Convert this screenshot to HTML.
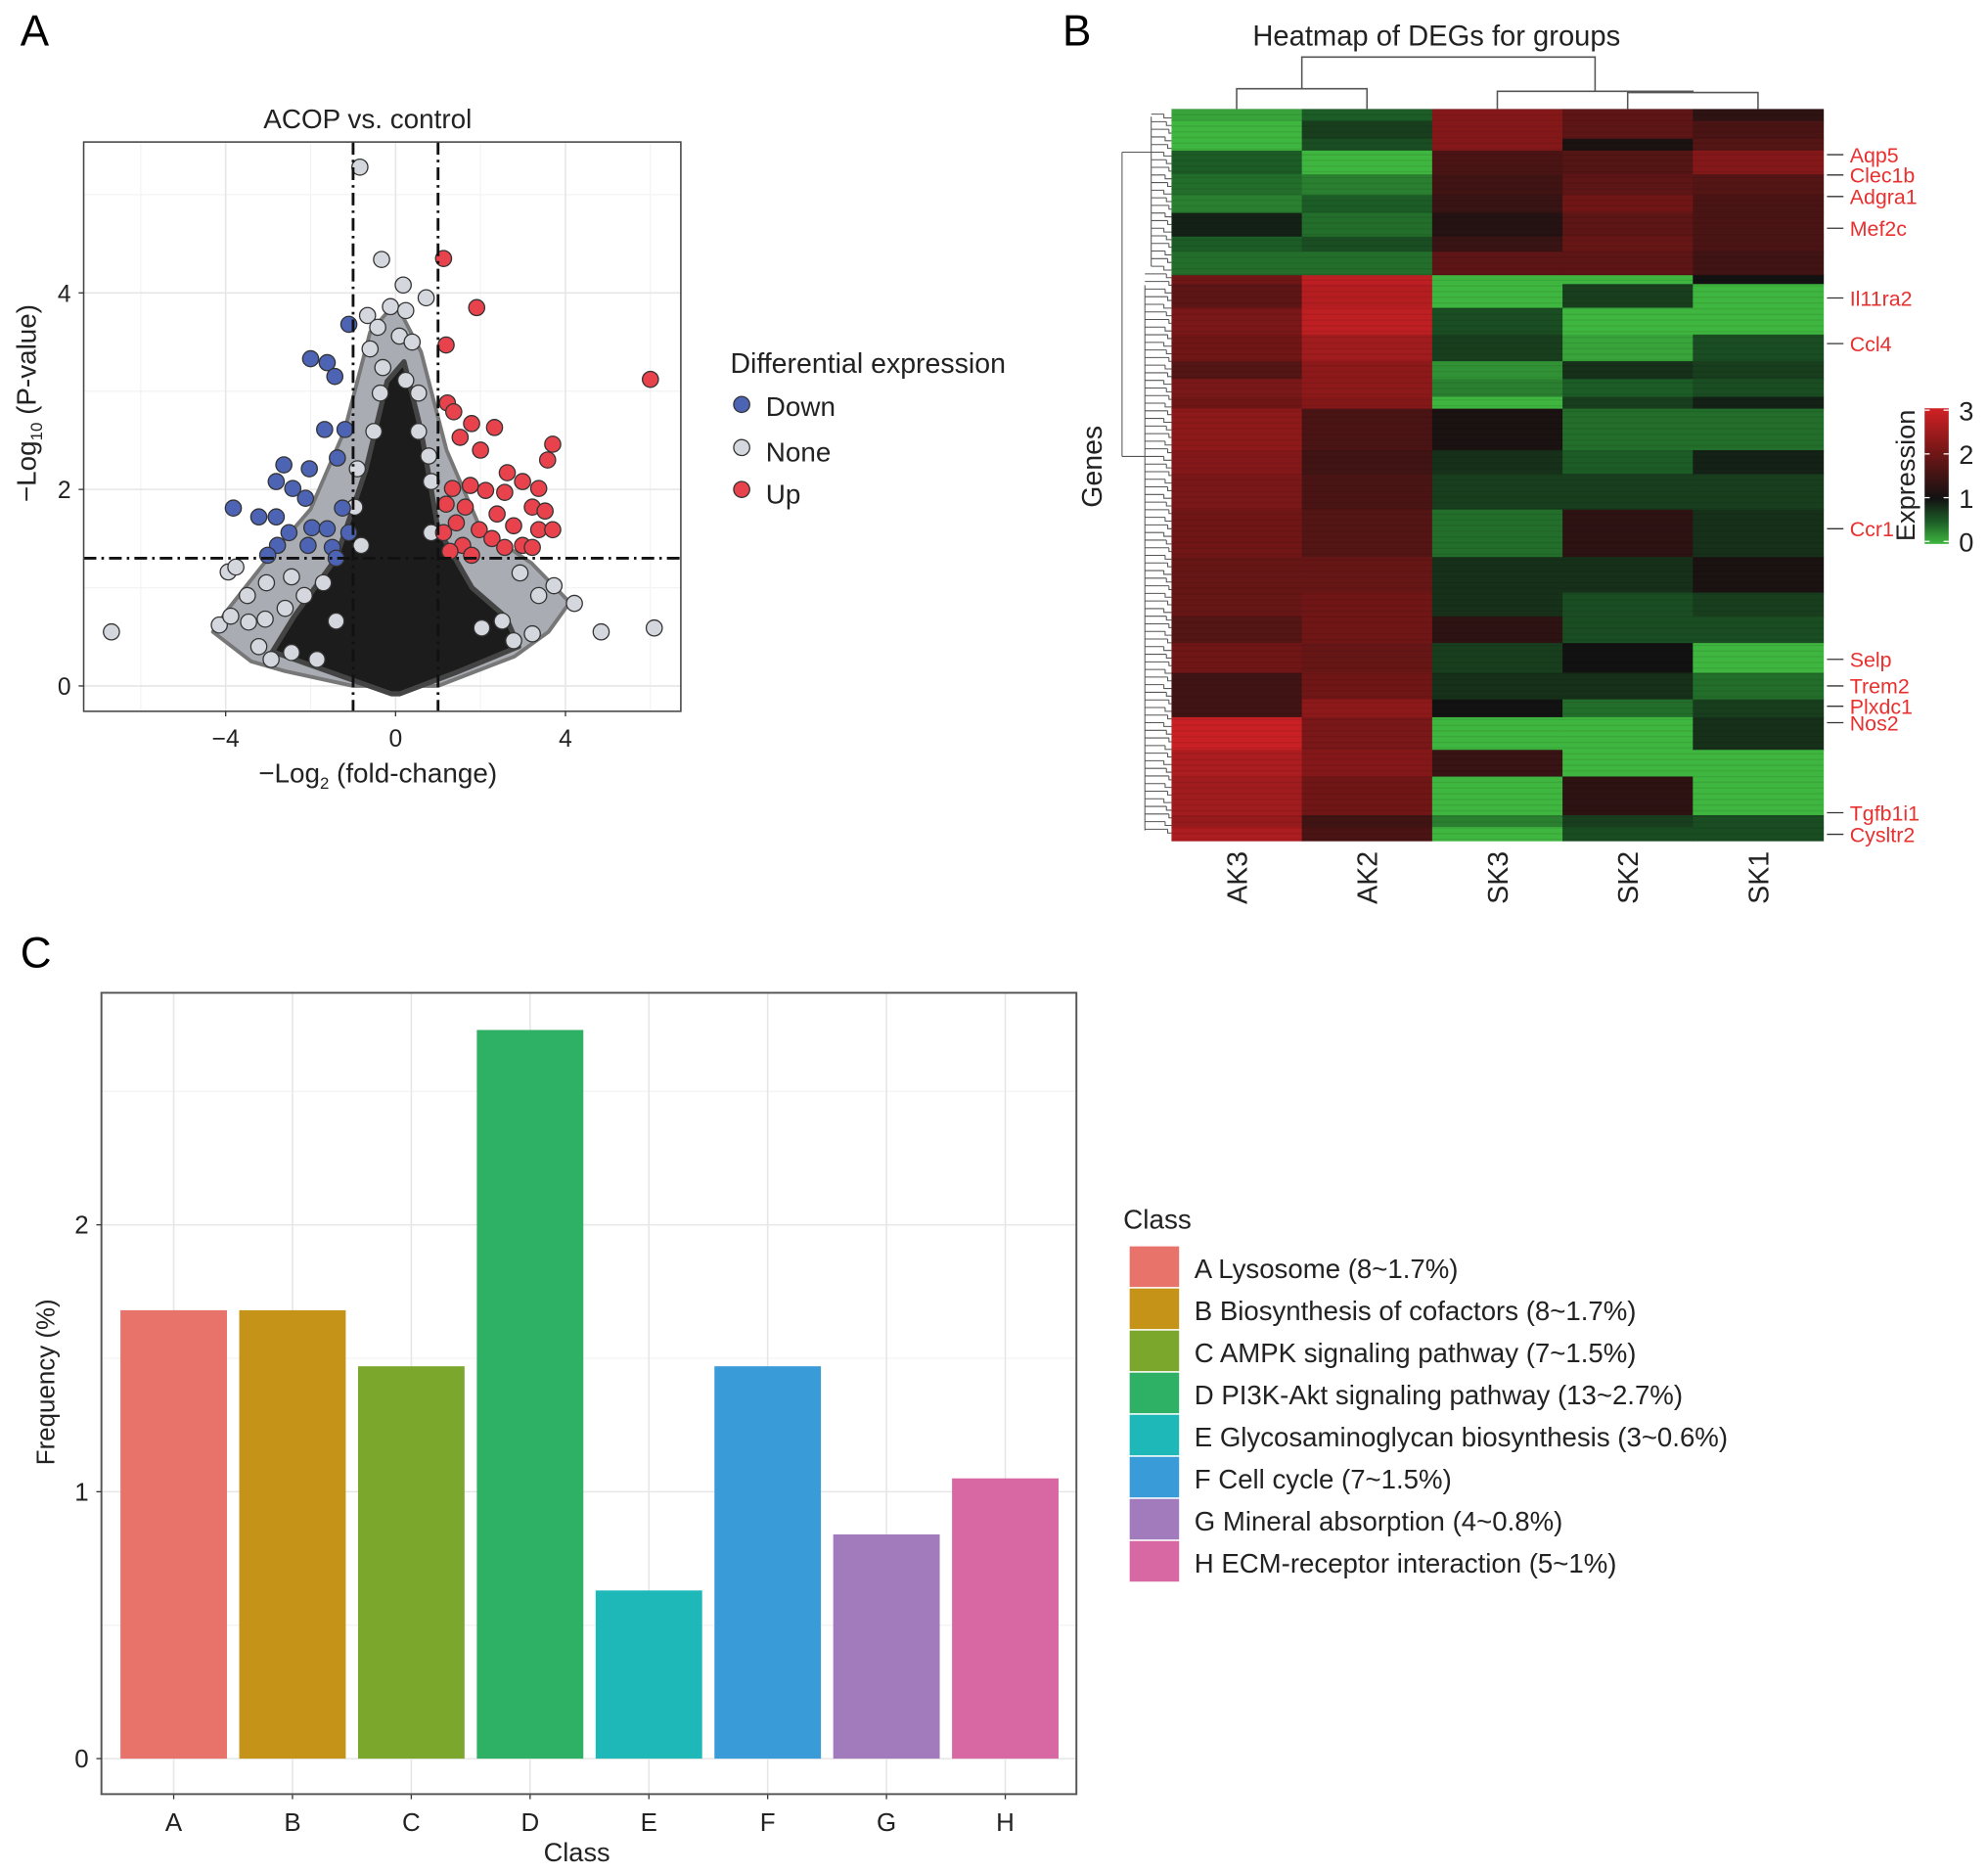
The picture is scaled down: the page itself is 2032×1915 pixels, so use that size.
<!DOCTYPE html>
<html><head><meta charset="utf-8"><style>
html,body{margin:0;padding:0;background:#fff}
svg{display:block;font-family:"Liberation Sans",sans-serif}
</style></head><body>
<svg id="fig" width="2032" height="1915" viewBox="0 0 1568 1478" preserveAspectRatio="none" xmlns="http://www.w3.org/2000/svg">
<rect width="1568" height="1478" fill="#fff"/>
<text x="16" y="36" font-size="34">A</text>
<text x="838" y="36" font-size="34">B</text>
<text x="16" y="763" font-size="34">C</text>
<g id="volcano"></g>
<g id="heat"></g>
<g id="bars"></g>
</svg>
<script>
const NS="http://www.w3.org/2000/svg";
function mk(p,t,a,txt){const e=document.createElementNS(NS,t);for(const k in a)e.setAttribute(k,a[k]);if(txt!==undefined)e.textContent=txt;p.appendChild(e);return e;}

// ---------- Panel A data ----------
const downX=[-1.10,-2.0,-1.61,-1.43,-1.67,-1.19,-1.37,-2.63,-2.03,-2.81,-2.42,-2.12,-3.82,-3.22,-2.81,-1.25,-1.97,-2.51,-1.61,-2.78,-2.06,-1.49,-1.40,-1.10,-3.01];
const downY=[3.68,3.33,3.29,3.15,2.61,2.61,2.32,2.25,2.21,2.08,2.01,1.91,1.81,1.72,1.72,1.81,1.61,1.56,1.60,1.43,1.43,1.41,1.30,1.56,1.33];
const upX=[1.13,1.91,1.19,6.0,1.22,1.37,1.79,2.33,1.52,2.0,3.70,3.58,2.63,1.34,1.76,2.12,2.99,3.37,2.57,1.19,1.64,2.39,3.22,3.52,1.43,1.97,2.78,3.37,3.70,1.13,2.27,2.99,2.57,1.58,1.79,3.22,1.28];
const upY=[4.35,3.85,3.47,3.12,2.88,2.79,2.67,2.63,2.53,2.40,2.46,2.30,2.17,2.01,2.04,1.99,2.08,2.01,1.97,1.85,1.82,1.75,1.82,1.78,1.66,1.59,1.63,1.59,1.59,1.56,1.50,1.43,1.41,1.43,1.33,1.41,1.37];
const noneX=[-0.84,-0.33,0.18,0.72,-0.66,-0.12,0.24,-0.42,0.09,-0.60,0.39,-0.30,0.24,-0.36,0.54,-6.69,4.84,6.09,4.21,3.73,-3.94,-3.76,-4.15,-3.88,-3.46,-3.07,-3.22,-2.93,-2.45,-1.85,2.93,3.37,3.22,2.51,2.78,2.03,-2.15,-2.60,-1.70,-1.40,-0.96,-0.90,0.84,0.78,-0.51,0.54,0.84,-0.81,-3.49,-3.04,-2.45];
const noneY=[5.28,4.34,4.08,3.95,3.77,3.86,3.82,3.65,3.56,3.43,3.50,3.24,3.11,2.98,2.98,0.55,0.55,0.59,0.84,1.02,1.16,1.21,0.62,0.71,0.65,0.68,0.40,0.27,0.34,0.27,1.15,0.92,0.53,0.66,0.46,0.59,0.92,0.79,1.05,0.66,1.82,2.21,2.08,2.34,2.59,2.59,1.56,1.43,0.92,1.05,1.11];
const haloX=[-4.3,-3.4,-2.6,-1,1,2.8,3.6,4.1,3.2,2.0,1.2,0.6,0.0,-0.6,-1.2,-2.0,-3.0,-4.0];
const haloY=[0.55,0.25,0.15,0.0,0,0.3,0.55,0.85,1.25,1.6,2.4,3.4,3.9,3.6,2.6,1.8,1.3,0.75];
const coreX=[-0.1,0.1,1.5,2.9,2.6,1.8,1.0,0.6,0.2,-0.2,-0.7,-1.4,-2.4,-2.9];
const coreY=[-0.08,-0.08,0.15,0.4,0.7,1.0,1.6,2.6,3.3,3.1,2.2,1.3,0.7,0.35];
const volXTicks=[-4,0,4];
const volYTicks=[0,2,4];

(function(){
const g=document.getElementById('volcano');
const L=66,R=537,T=112,B=561;
const sx=v=>312+v*33.5, sy=v=>541-v*77.5;
mk(g,'rect',{x:L,y:T,width:R-L,height:B-T,fill:'#fff'});
[-6,-2,2,6].forEach(v=>mk(g,'line',{x1:sx(v),x2:sx(v),y1:T,y2:B,stroke:'#f3f3f3','stroke-width':1}));
[1,3,5].forEach(v=>mk(g,'line',{x1:L,x2:R,y1:sy(v),y2:sy(v),stroke:'#f3f3f3','stroke-width':1}));
volXTicks.forEach(v=>mk(g,'line',{x1:sx(v),x2:sx(v),y1:T,y2:B,stroke:'#e6e6e6','stroke-width':1.2}));
volYTicks.forEach(v=>mk(g,'line',{x1:L,x2:R,y1:sy(v),y2:sy(v),stroke:'#e6e6e6','stroke-width':1.2}));
const halo=mk(g,'polygon',{points:haloX.map((x,i)=>sx(x)+','+sy(haloY[i])).join(' '),fill:'#a9adb3',stroke:'#777','stroke-width':3,'stroke-linejoin':'round'});


const core=mk(g,'polygon',{points:coreX.map((x,i)=>sx(x)+','+sy(coreY[i])).join(' '),fill:'#1c1c1c',stroke:'#444','stroke-width':4,'stroke-linejoin':'round'});


function pts(xs,ys,fill,name){xs.forEach((x,i)=>{const c=mk(g,'circle',{cx:sx(x),cy:sy(ys[i]),r:6.3,fill:fill,stroke:'#333','stroke-width':1});

});}
pts(noneX,noneY,'#d4d8de','none-point');
pts(downX,downY,'#4d63b4','down-point');
pts(upX,upY,'#e8424c','up-point');
const dash={stroke:'#111','stroke-width':2.2,'stroke-dasharray':'10,4,2,4',fill:'none'};
mk(g,'line',Object.assign({x1:sx(-1),x2:sx(-1),y1:T,y2:B},dash));
mk(g,'line',Object.assign({x1:sx(1),x2:sx(1),y1:T,y2:B},dash));
mk(g,'line',Object.assign({x1:L,x2:R,y1:sy(1.3),y2:sy(1.3)},dash));
mk(g,'rect',{x:L,y:T,width:R-L,height:B-T,fill:'none',stroke:'#444','stroke-width':1.2});
volXTicks.forEach(v=>{mk(g,'line',{x1:sx(v),x2:sx(v),y1:B,y2:B+4,stroke:'#333'});
const t=mk(g,'text',{x:sx(v),y:B+28,'font-size':19,'text-anchor':'middle',fill:'#222'},v<0?'\u2212'+(-v):String(v));
});
volYTicks.forEach(v=>{mk(g,'line',{x1:L-4,x2:L,y1:sy(v),y2:sy(v),stroke:'#333'});
const t=mk(g,'text',{x:L-10,y:sy(v)+7,'font-size':19,'text-anchor':'end',fill:'#222'},String(v));
});
})();
</script>
<script>
(function(){
const svg=document.getElementById('fig');
const s=`
<text x="290" y="101" font-size="21.5" text-anchor="middle" fill="#222">ACOP vs. control</text>
<text x="298" y="617" font-size="21.5" text-anchor="middle" fill="#222">−Log<tspan font-size="13" dy="5">2</tspan><tspan dy="-5"> (fold-change)</tspan></text>
<text transform="translate(28,318) rotate(-90)" font-size="21.5" text-anchor="middle" fill="#222">−Log<tspan font-size="13" dy="5">10</tspan><tspan dy="-5"> (P-value)</tspan></text>
<g>
<text x="576" y="294" font-size="22" fill="#222">Differential expression</text>
<circle cx="585" cy="319" r="6.3" fill="#4d63b4" stroke="#333"/>
<text x="604" y="328" font-size="21.5" fill="#222">Down</text>
<circle cx="585" cy="353" r="6.3" fill="#d4d8de" stroke="#333"/>
<text x="604" y="364" font-size="21.5" fill="#222">None</text>
<circle cx="585" cy="386" r="6.3" fill="#e8424c" stroke="#333"/>
<text x="604" y="397" font-size="21.5" fill="#222">Up</text>
</g>`;
svg.insertAdjacentHTML('beforeend',s);
})();
</script>
<script>
// ---------- Panel B data ----------
const samples=['AK3','AK2','SK3','SK2','SK1'];
const rowStart=[185,205,235,255,295,330,360,400,425,465,480,520,565,610,640,670,690,760,800,860,940,1000,1040,1085,1135,1180,1210,1265,1310,1375,1395];
const colAK3=[0.1,0.0,0.0,0.5,0.4,0.3,0.9,0.5,0.4,2.0,1.8,2.1,2.0,1.7,2.1,2.0,2.3,2.2,2.1,2.0,1.9,1.9,1.7,2.0,1.5,1.5,2.9,2.6,2.5,2.4,2.6];
const colAK2=[0.5,0.7,0.6,0.0,0.3,0.5,0.4,0.6,0.4,2.8,2.7,2.8,2.5,2.3,2.3,2.2,1.6,1.5,1.6,1.7,1.9,2.0,2.0,1.9,2.0,2.3,2.1,2.2,2.0,1.5,1.6];
const colSK3=[2.2,2.2,2.2,1.6,1.5,1.4,1.2,1.4,1.8,0.0,0.0,0.6,0.7,0.2,0.3,0.0,1.1,0.8,0.7,0.4,0.8,0.8,1.3,0.7,0.8,1.0,0.0,1.4,0.0,0.3,0.0];
const colSK2=[1.8,1.8,1.1,1.7,1.8,2.0,1.8,1.9,1.8,0.0,0.7,0.0,0.1,0.8,0.5,0.7,0.4,0.5,0.7,1.3,0.8,0.6,0.6,1.0,0.8,0.4,0.0,0.0,1.3,0.7,0.6];
const colSK1=[1.3,1.6,1.7,2.2,1.7,1.6,1.6,1.6,1.5,1.0,0.0,0.0,0.6,0.7,0.6,0.9,0.4,0.9,0.7,0.8,1.1,0.7,0.6,0.0,0.4,0.7,0.8,0.0,0.0,0.6,0.6];
const geneNames=['Aqp5','Clec1b','Adgra1','Mef2c','Il11ra2','Ccl4','Ccr1','Selp','Trem2','Plxdc1','Nos2','Tgfb1i1','Cysltr2'];
const geneRowY=[125,141,158,183,238,274,420,523,544,560,573,644,661];
const legendTicks=[0,1,2,3];

(function(){
const g=document.getElementById('heat');
const L=924,R=1438,T=86,B=663,Z0=185,Z1=1418;
const cw=(R-L)/samples.length;
const ry=z=>T+(z-Z0)/(Z1-Z0)*(B-T);
const stops=[[0,[63,182,63]],[0.5,[28,92,38]],[1,[18,18,18]],[2,[112,22,22]],[3,[210,33,37]]];
function col(v){v=Math.max(0,Math.min(3,v));for(let i=0;i<stops.length-1;i++){const a=stops[i],b=stops[i+1];if(v<=b[0]){const f=(v-a[0])/(b[0]-a[0]);return 'rgb('+a[1].map((c,k)=>Math.round(c+(b[1][k]-c)*f)).join(',')+')';}}return 'rgb(210,33,37)';}
const cols=[colAK3,colAK2,colSK3,colSK2,colSK1];
cols.forEach((arr,ci)=>{arr.forEach((v,ri)=>{const y0=ry(rowStart[ri]),y1=ri+1<rowStart.length?ry(rowStart[ri+1]):B;
const r=mk(g,'rect',{x:L+ci*cw,y:y0,width:cw+0.5,height:y1-y0+0.5,fill:col(v)});

});});
for(let y=T;y<B;y+=4.5){mk(g,'line',{x1:L,x2:R,y1:y,y2:y,stroke:'rgba(0,0,0,0.08)','stroke-width':1});}
samples.forEach((s,i)=>{const cx=L+cw*(i+0.5);const t=mk(g,'text',{transform:`translate(${cx+8},713) rotate(-90)`,'font-size':22,fill:'#222'},s);
});
const dl={stroke:'#555','stroke-width':1.2,fill:'none'};
const cx=i=>L+cw*(i+0.5);
const den=mk(g,'path',Object.assign({d:`M${cx(0)},${T}V70H${cx(1)}V${T} M${cx(3)},${T}V73H${cx(4)}V${T} M${cx(2)},${T}V72H${(cx(3)+cx(4))/2}V73 M${(cx(0)+cx(1))/2},70V45H${(cx(2)+(cx(3)+cx(4))/2)/2}V72`},dl));


let d='M885,120V360 M885,120H908 M885,360H903 M908,92V210 M903,225V655';
for(let y=90;y<660;y+=6){const x0=(y<215)?908:903;d+=` M${x0},${y}H${918+((y*7)%5)} M${918+((y*7)%5)},${y}V${y+3}H924`;}
const rd=mk(g,'path',Object.assign({d:d},dl,{'stroke-width':0.8}));


geneNames.forEach((n,i)=>{const y=geneRowY[i];
mk(g,'line',{x1:R+3,x2:R+16,y1:y-3,y2:y-3,stroke:'#333','stroke-width':1});
const t=mk(g,'text',{x:R+21,y:y+3,'font-size':16.5,fill:'#e8302f'},n);
});
const gr=mk(g,'defs',{});const lg=mk(gr,'linearGradient',{id:'cb',x1:0,y1:1,x2:0,y2:0});
stops.forEach(s=>mk(lg,'stop',{offset:s[0]/3,'stop-color':col(s[0])}));
const cb=mk(g,'rect',{x:1518,y:322,width:19,height:107,fill:'url(#cb)'});

legendTicks.forEach(v=>{const y=427-v*34.5;mk(g,'line',{x1:1518,x2:1522,y1:y,y2:y,stroke:'#fff'});mk(g,'line',{x1:1533,x2:1537,y1:y,y2:y,stroke:'#fff'});
const t=mk(g,'text',{x:1545,y:y+8,'font-size':21,fill:'#222'},String(v));
});
})();
document.getElementById('fig').insertAdjacentHTML('beforeend',`
<text x="1133" y="36" font-size="22.5" text-anchor="middle" fill="#222">Heatmap of DEGs for groups</text>
<text transform="translate(869,368) rotate(-90)" font-size="22" text-anchor="middle" fill="#222">Genes</text>
<text transform="translate(1510,375) rotate(-90)" font-size="21" text-anchor="middle" fill="#222">Expression</text>`);
</script>
<script>
// ---------- Panel C data ----------
const classes=['A','B','C','D','E','F','G','H'];
const freqs=[1.68,1.68,1.47,2.73,0.63,1.47,0.84,1.05];
const colors=['#e8736b','#c49317','#7ba72c','#2eb065','#1eb8b9','#3a9bd9','#a27bbd','#d768a3'];
const legendLabels=['A Lysosome (8~1.7%)','B Biosynthesis of cofactors (8~1.7%)','C AMPK signaling pathway (7~1.5%)','D PI3K-Akt signaling pathway (13~2.7%)','E Glycosaminoglycan biosynthesis (3~0.6%)','F Cell cycle (7~1.5%)','G Mineral absorption (4~0.8%)','H ECM-receptor interaction (5~1%)'];
const barYTicks=[0,1,2];
(function(){
const g=document.getElementById('bars');
const L=80,R=849,T=783,B=1415;
const sx=i=>137+i*93.7, sy=v=>1387-v*210.5, bw=84;
mk(g,'rect',{x:L,y:T,width:R-L,height:B-T,fill:'#fff'});
[0.5,1.5,2.5].forEach(v=>mk(g,'line',{x1:L,x2:R,y1:sy(v),y2:sy(v),stroke:'#f3f3f3'}));
barYTicks.forEach(v=>mk(g,'line',{x1:L,x2:R,y1:sy(v),y2:sy(v),stroke:'#e6e6e6','stroke-width':1.2}));
classes.forEach((c,i)=>mk(g,'line',{x1:sx(i),x2:sx(i),y1:T,y2:B,stroke:'#e6e6e6','stroke-width':1.2}));
classes.forEach((c,i)=>{const r=mk(g,'rect',{x:sx(i)-bw/2,y:sy(freqs[i]),width:bw,height:sy(0)-sy(freqs[i]),fill:colors[i]});


mk(g,'line',{x1:sx(i),x2:sx(i),y1:B,y2:B+4,stroke:'#333'});
const t=mk(g,'text',{x:sx(i),y:B+29,'font-size':20,'text-anchor':'middle',fill:'#222'},c);
});
mk(g,'rect',{x:L,y:T,width:R-L,height:B-T,fill:'none',stroke:'#555','stroke-width':1.5});
barYTicks.forEach(v=>{mk(g,'line',{x1:L-4,x2:L,y1:sy(v),y2:sy(v),stroke:'#333'});
const t=mk(g,'text',{x:L-10,y:sy(v)+7,'font-size':20,'text-anchor':'end',fill:'#222'},String(v));
});
const t1=mk(g,'text',{x:455,y:1468,'font-size':21,'text-anchor':'middle',fill:'#222'},'Class');

const t2=mk(g,'text',{transform:'translate(43,1090) rotate(-90)','font-size':20,'text-anchor':'middle',fill:'#222'},'Frequency (%)');

const t3=mk(g,'text',{x:886,y:969,'font-size':21.5,fill:'#222'},'Class');

legendLabels.forEach((lab,i)=>{const y=983+i*33.2;
const k=mk(g,'rect',{x:891,y:y,width:39,height:32,fill:colors[i]});

const t=mk(g,'text',{x:942,y:y+25,'font-size':21.3,fill:'#222'},lab);
});
})();
</script>
</body></html>
